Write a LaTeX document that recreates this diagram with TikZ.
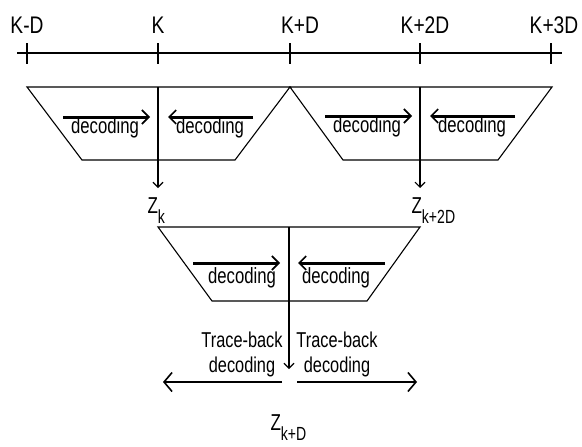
\documentclass[tikz,border=0pt]{standalone}
\usepackage{fontspec}
\setmainfont[FakeStretch=0.74]{Liberation Sans}
\newfontfamily\lblfont[FakeStretch=0.8]{Liberation Sans}
\newfontfamily\decfont[FakeStretch=0.76]{Liberation Sans}
\usetikzlibrary{arrows.meta}
\newcommand{\zsub}[1]{Z\kern0pt\raisebox{-10pt}{\fontsize{19}{19}\selectfont #1}}
\begin{document}
\begin{tikzpicture}[x=1pt,y=-1pt,line width=1.1pt,
  lbl/.style={font=\lblfont\fontsize{24}{26}\selectfont, inner sep=0pt, anchor=base},
  dec/.style={font=\decfont\fontsize{22}{24}\selectfont, inner sep=0pt, anchor=base},
  zlbl/.style={font=\fontsize{23}{24}\selectfont, inner sep=0pt, anchor=base west},
  tb/.style={font=\decfont\fontsize{21.5}{25}\selectfont, inner sep=0pt, align=center},
  thickarr/.style={line width=3pt, -{Straight Barb[length=7pt,width=14pt,line width=1.6pt]}},
  thinarr/.style={line width=1.1pt, -{Straight Barb[length=5pt,width=10pt,line width=1.1pt]}},
  botarr/.style={line width=1.5pt, -{Straight Barb[length=8pt,width=19pt,line width=1.6pt]}},
  trap/.style={line width=1.1pt}
]
\useasboundingbox (0,0) rectangle (582,447);
% axis
\coordinate (axL) at (17,53);
\coordinate (axR) at (562,53);
\draw (axL) -- (axR);
\foreach \x/\n in {27/a,158/b,290/c,420/d,551/e}{
  \coordinate (t\n) at (\x,53);
  \draw (\x,43) -- (\x,64);
}
\node[lbl] (lKD) at (27,33) {K-D};
\node[lbl] (lK) at (158,33) {K};
\node[lbl] (lKpD) at (300,33) {K+D};
\node[lbl] (lK2D) at (425,33) {K+2D};
\node[lbl] (lK3D) at (554,33) {K+3D};
% trapezoid 1
\draw[trap] (27,87) -- (290,87) -- (235,160) -- (82,160) -- cycle;
% trapezoid 2
\draw[trap] (290,87) -- (552,87) -- (498,160) -- (343,160) -- cycle;
% decoding arrows
\draw[thickarr] (63,117) -- (150,117);
\node[dec] (d1) at (105,133) {decoding};
\draw[thickarr] (253,117) -- (168,117);
\node[dec] (d2) at (210,133) {decoding};
\draw[thickarr] (325,116) -- (412,116);
\node[dec] (d3) at (367,132) {decoding};
\draw[thickarr] (515,116) -- (430,116);
\node[dec] (d4) at (472,132) {decoding};
% Z nodes
\coordinate (v1) at (158,87);
\coordinate (v1e) at (158,188);
\coordinate (v2) at (420,87);
\coordinate (v2e) at (420,188);
\draw[thinarr] (v1) -- (v1e);
\draw[thinarr] (v2) -- (v2e);
\node[zlbl] (zk) at (147,213) {\zsub{k}};
\node[zlbl] (zk2d) at (411,213) {\zsub{k+2D}};
% trapezoid 3
\draw[trap] (158,227) -- (420,227) -- (367,301) -- (212,301) -- cycle;
\draw[thickarr] (193,263) -- (280,263);
\node[dec] (d5) at (242,283) {decoding};
\draw[thickarr] (385,263) -- (298,263);
\node[dec] (d6) at (336,283) {decoding};
\coordinate (v3) at (289,227);
\coordinate (v3e) at (289,369);
\draw[thinarr] (v3) -- (v3e);
\node[tb] (tbL) at (242,354) {Trace-back\\decoding};
\node[tb] (tbR) at (337,354) {Trace-back\\decoding};
\coordinate (bl1) at (282,382);
\coordinate (bl2) at (163,382);
\coordinate (br1) at (297,382);
\coordinate (br2) at (417,382);
\draw[botarr] (bl1) -- (bl2);
\draw[botarr] (br1) -- (br2);
\node[zlbl] (zkd) at (270,430) {\zsub{k+D}};
\end{tikzpicture}
\end{document}
